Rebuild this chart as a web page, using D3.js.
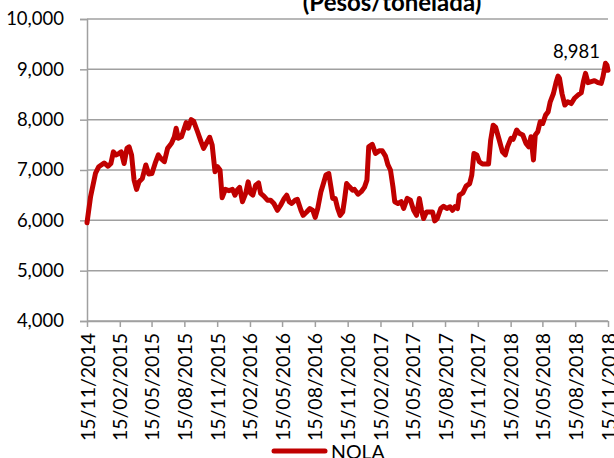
<!DOCTYPE html>
<html>
<head>
<meta charset="utf-8">
<script src="https://cdn.jsdelivr.net/npm/d3@7"></script>
<style>
    body { margin: 0; background: #fff; }
    svg { display: block; font-family: Lato, "DejaVu Sans", sans-serif; }
</style>
</head>
<body>
<div id="chart"></div>
<script>
var titleText = "(Pesos/tonelada)";
var seriesName = "NOLA";

var dates = [
    "2014-11-15","2014-11-25","2014-12-09","2014-12-18","2015-01-02","2015-01-13","2015-01-21","2015-01-28","2015-02-04","2015-02-13",
    "2015-02-19","2015-02-27","2015-03-07","2015-03-13","2015-03-20","2015-03-27","2015-04-03","2015-04-10","2015-04-19","2015-04-29",
    "2015-05-07","2015-05-16","2015-05-25","2015-06-03","2015-06-10","2015-06-20","2015-06-29","2015-07-10","2015-07-18","2015-07-23",
    "2015-07-29","2015-08-07","2015-08-20","2015-08-26","2015-09-03","2015-09-10","2015-09-21","2015-10-01","2015-10-08","2015-10-18",
    "2015-10-25","2015-11-01","2015-11-09","2015-11-16","2015-11-23","2015-11-29",
    "2015-12-08","2015-12-18","2015-12-28","2016-01-04","2016-01-10","2016-01-17","2016-01-25","2016-02-03","2016-02-10","2016-02-17",
    "2016-02-23","2016-03-02","2016-03-10","2016-03-16","2016-03-25","2016-04-04","2016-04-13","2016-04-22","2016-05-02","2016-05-11",
    "2016-05-21","2016-05-28","2016-06-04","2016-06-11","2016-06-21","2016-06-27","2016-07-07","2016-07-13","2016-07-23","2016-08-01",
    "2016-08-09","2016-08-16","2016-08-23","2016-09-01","2016-09-08","2016-09-15","2016-09-23","2016-09-29","2016-10-04","2016-10-11",
    "2016-10-18","2016-10-25","2016-11-01","2016-11-06","2016-11-12","2016-11-20","2016-11-29",
    "2016-12-04","2016-12-14","2016-12-23","2017-01-01","2017-01-08","2017-01-13","2017-01-23","2017-02-01","2017-02-11","2017-02-20",
    "2017-03-01","2017-03-08","2017-03-15","2017-03-22","2017-03-27","2017-04-05","2017-04-14","2017-04-21","2017-05-01","2017-05-10",
    "2017-05-19","2017-05-27","2017-06-04","2017-06-10","2017-06-16","2017-06-24","2017-07-03","2017-07-11","2017-07-17","2017-07-24",
    "2017-08-03","2017-08-11","2017-08-20","2017-08-29","2017-09-05","2017-09-12","2017-09-19","2017-09-24","2017-10-04","2017-10-13",
    "2017-10-23","2017-10-29","2017-11-04","2017-11-12","2017-11-19","2017-11-28",
    "2017-12-15","2017-12-21","2017-12-28","2018-01-04","2018-01-14","2018-01-23","2018-01-31","2018-02-06","2018-02-16","2018-02-22",
    "2018-03-04","2018-03-11","2018-03-21","2018-03-30","2018-04-07","2018-04-13","2018-04-20","2018-04-25","2018-05-02","2018-05-09",
    "2018-05-16","2018-05-24","2018-05-31","2018-06-06","2018-06-15","2018-06-23","2018-06-28","2018-07-02","2018-07-09","2018-07-17",
    "2018-07-25","2018-08-04","2018-08-13","2018-08-23","2018-09-01","2018-09-07","2018-09-13","2018-09-20","2018-09-29","2018-10-08",
    "2018-10-18","2018-10-27","2018-11-01","2018-11-08","2018-11-12","2018-11-15"
];

var values = [
    5950,6470,6940,7065,7140,7075,7130,7360,7300,7330,
    7360,7130,7430,7460,7300,6800,6615,6765,6830,7100,
    6920,6930,7130,7300,7230,7165,7430,7530,7660,7830,
    7630,7660,7940,7830,8000,7970,7760,7560,7430,7560,
    7650,7495,6965,7065,7000,6450,
    6615,6590,6615,6500,6600,6655,6370,6535,6765,6535,
    6500,6700,6745,6535,6480,6400,6400,6335,6200,6300,
    6435,6500,6370,6335,6400,6415,6200,6100,6165,6235,
    6200,6060,6235,6570,6730,6900,6930,6665,6435,6435,
    6235,6100,6165,6400,6730,6665,6600,
    6615,6520,6570,6655,6800,7460,7510,7330,7380,7380,
    7275,7100,7000,6665,6370,6335,6370,6235,6435,6400,
    6200,6100,6435,6200,6035,6165,6165,6165,5990,6035,
    6235,6280,6235,6270,6200,6270,6235,6500,6545,6680,
    6730,6900,7330,7300,7165,7120,
    7120,7595,7890,7845,7595,7360,7300,7460,7630,7610,
    7795,7730,7695,7530,7460,7660,7200,7695,7760,7960,
    7925,8090,8155,8355,8520,8755,8865,8820,8520,8290,
    8355,8320,8425,8490,8535,8755,8920,8735,8755,8775,
    8735,8720,8855,9120,9085,8981
];

var tickDates = [
    "2014-11-15","2015-02-15","2015-05-15","2015-08-15","2015-11-15",
    "2016-02-15","2016-05-15","2016-08-15","2016-11-15",
    "2017-02-15","2017-05-15","2017-08-15","2017-11-15",
    "2018-02-15","2018-05-15","2018-08-15","2018-11-15"
];
var yTicks = [4000, 5000, 6000, 7000, 8000, 9000, 10000];

var width = 614, height = 458;
var margin = { top: 19, right: 6, bottom: 137, left: 87 };
var lineColor = "#c00000";
var gridColor = "#a0a0a0";

var parse = d3.timeParse("%Y-%m-%d");
var data = dates.map(function(d, i) { return { date: parse(d), value: values[i] }; });

var svg = d3.select("#chart").append("svg")
    .attr("width", width)
    .attr("height", height);

var x = d3.scaleTime()
    .domain([parse(tickDates[0]), parse(tickDates[tickDates.length - 1])])
    .range([margin.left, width - margin.right]);

var y = d3.scaleLinear()
    .domain([4000, 10000])
    .range([height - margin.bottom, margin.top]);

// horizontal grid
svg.append("g")
    .selectAll("line")
    .data(yTicks)
    .enter().append("line")
    .attr("x1", margin.left)
    .attr("x2", width - margin.right)
    .attr("y1", function(d) { return y(d); })
    .attr("y2", function(d) { return y(d); })
    .style("stroke", gridColor)
    .style("stroke-width", 1.5);

// y axis
var yAxis = svg.append("g")
    .attr("transform", "translate(" + margin.left + ",0)")
    .call(d3.axisLeft(y).tickValues(yTicks).tickFormat(d3.format(",")).tickSize(7).tickPadding(16));
yAxis.select(".domain").style("stroke", gridColor).style("stroke-width", 1.5);
yAxis.selectAll(".tick line").style("stroke", gridColor).style("stroke-width", 1.5);
yAxis.selectAll("text")
    .style("font-family", "Lato, sans-serif")
    .style("font-size", "18.5px")
    .style("fill", "#000");

// x axis
var xAxis = svg.append("g")
    .attr("transform", "translate(0," + y(4000) + ")")
    .call(d3.axisBottom(x).tickValues(tickDates.map(parse)).tickFormat(d3.timeFormat("%d/%m/%Y")).tickSize(6).tickSizeOuter(0));
xAxis.select(".domain").style("stroke", gridColor).style("stroke-width", 1.5);
xAxis.selectAll(".tick line").style("stroke", gridColor).style("stroke-width", 1.5);
xAxis.selectAll("text")
    .style("font-family", "Lato, sans-serif")
    .style("font-size", "19.5px")
    .style("fill", "#000")
    .attr("text-anchor", "end")
    .attr("transform", "rotate(-90)")
    .attr("x", -12)
    .attr("y", 0)
    .attr("dy", "0.36em");

// series line
var line = d3.line()
    .x(function(d) { return x(d.date); })
    .y(function(d) { return y(d.value); });

svg.append("path")
    .datum(data)
    .attr("d", line)
    .style("fill", "none")
    .style("stroke", lineColor)
    .style("stroke-width", 5)
    .style("stroke-linejoin", "round")
    .style("stroke-linecap", "round");

// last value label
var last = data[data.length - 1];
svg.append("text")
    .attr("x", x(last.date) - 8)
    .attr("y", y(last.value) - 12)
    .attr("text-anchor", "end")
    .style("font-size", "18.5px")
    .style("fill", "#000")
    .text(d3.format(",")(last.value));

// title (top part cut by the frame)
svg.append("text")
    .attr("x", 392)
    .attr("y", 11)
    .attr("text-anchor", "middle")
    .style("font-size", "24px")
    .style("font-weight", "bold")
    .style("fill", "#000")
    .text(titleText);

// legend
var legend = svg.append("g").attr("transform", "translate(272,451)");
legend.append("line")
    .attr("x1", 2).attr("x2", 53)
    .attr("y1", 0).attr("y2", 0)
    .style("stroke", lineColor)
    .style("stroke-width", 5)
    .style("stroke-linecap", "round");
legend.append("text")
    .attr("x", 59)
    .attr("y", 8)
    .style("font-size", "19.5px")
    .style("fill", "#000")
    .text(seriesName);
</script>
</body>
</html>
